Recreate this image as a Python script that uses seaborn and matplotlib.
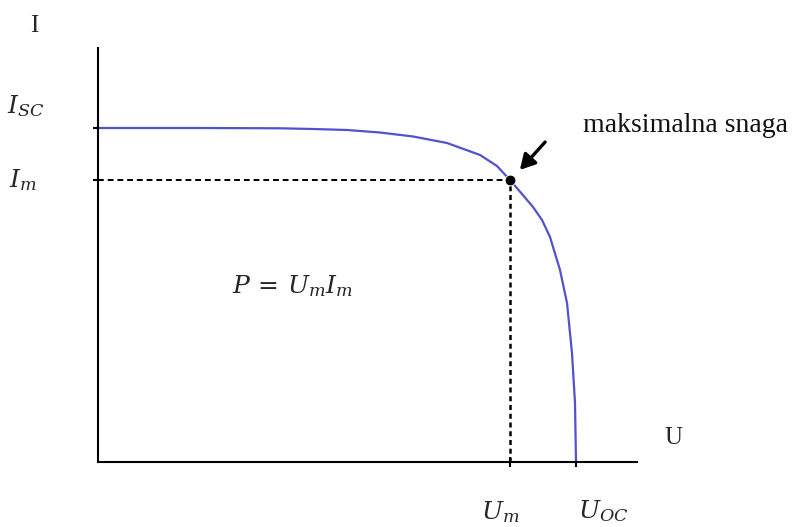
import matplotlib
matplotlib.use("Agg")
import matplotlib.pyplot as plt
import seaborn as sns
import pandas as pd

sns.set_style("white")
plt.rcParams["font.family"] = ["Liberation Serif", "DejaVu Serif"]
plt.rcParams["mathtext.fontset"] = "dejavuserif"

# I-U curve of a solar cell (normalised: U_oc = 1, I_sc = 1)
U = [0.0, 0.2134, 0.3808, 0.4498, 0.5209, 0.5900, 0.6590, 0.7301, 0.7992,
     0.8347, 0.8619, 0.8870, 0.9100, 0.9289, 0.9456, 0.9665, 0.9812,
     0.9916, 0.9979, 1.0]
I = [1.0, 1.0, 0.9991, 0.9970, 0.9940, 0.9865, 0.9746, 0.9551, 0.9192,
     0.8862, 0.8443, 0.8024, 0.7635, 0.7246, 0.6737, 0.5749, 0.4760,
     0.3263, 0.1766, 0.0]

U_M = 0.8619
I_M = 0.8443
U_OC = 1.0
I_SC = 1.0

curve = pd.DataFrame({"U": U, "I": I})
mpp = pd.DataFrame({"U": [U_M], "I": [I_M]})

fig = plt.figure(figsize=(7.96, 5.27), dpi=100)
ax = fig.add_axes([98 / 796, 65 / 527, 539 / 796, 414 / 527])

sns.lineplot(data=curve, x="U", y="I", sort=False, color="#5252cc",
             linewidth=1.6, ax=ax)

# dashed guides to the maximum power point
ax.plot([0, U_M], [I_M, I_M], color="black", linestyle=(0, (3, 2)), linewidth=1.4)
ax.plot([U_M, U_M], [0, I_M], color="black", linestyle=(0, (2, 1.5)), linewidth=1.8)

sns.scatterplot(data=mpp, x="U", y="I", color="black", s=60, zorder=5, ax=ax)

ax.annotate("", xy=(0.8787, 0.8683), xytext=(0.9393, 0.9641),
            arrowprops=dict(arrowstyle="-|>,head_length=0.9,head_width=0.5",
                            color="black", lw=2.4))

ax.set_xlim(0, 1.1276)
ax.set_ylim(0, 1.2395)
ax.set_xticks([U_M, U_OC])
ax.set_yticks([I_M, I_SC])
ax.set_xticklabels([])
ax.set_yticklabels([])
ax.tick_params(direction="inout", length=7, width=1.5, colors="black",
               bottom=True, left=True)
ax.set_xlabel("")
ax.set_ylabel("")
for side in ["top", "right"]:
    ax.spines[side].set_visible(False)
for side in ["left", "bottom"]:
    ax.spines[side].set_color("black")
    ax.spines[side].set_linewidth(1.5)

ax.text(-0.1328, 1.304, "I", fontsize=18, ha="center", va="center", clip_on=False)
ax.text(1.203, 0.072, "U", fontsize=18, ha="center", va="center", clip_on=False)
ax.text(-0.1517, 1.066, "$I_{SC}$", fontsize=18, ha="center", va="center", clip_on=False)
ax.text(-0.157, 0.844, "$I_m$", fontsize=18, ha="center", va="center", clip_on=False)
ax.text(0.842, -0.151, "$U_m$", fontsize=18, ha="center", va="center", clip_on=False)
ax.text(1.0575, -0.1467, "$U_{OC}$", fontsize=18, ha="center", va="center", clip_on=False)
ax.text(0.407, 0.527, "$P\\,=\\,U_mI_m$", fontsize=18, ha="center", va="center")
ax.text(1.0146, 0.988, "maksimalna snaga", fontsize=20, ha="left", va="baseline",
        color="#111111", clip_on=False)

fig.savefig("out.png", dpi=100)
